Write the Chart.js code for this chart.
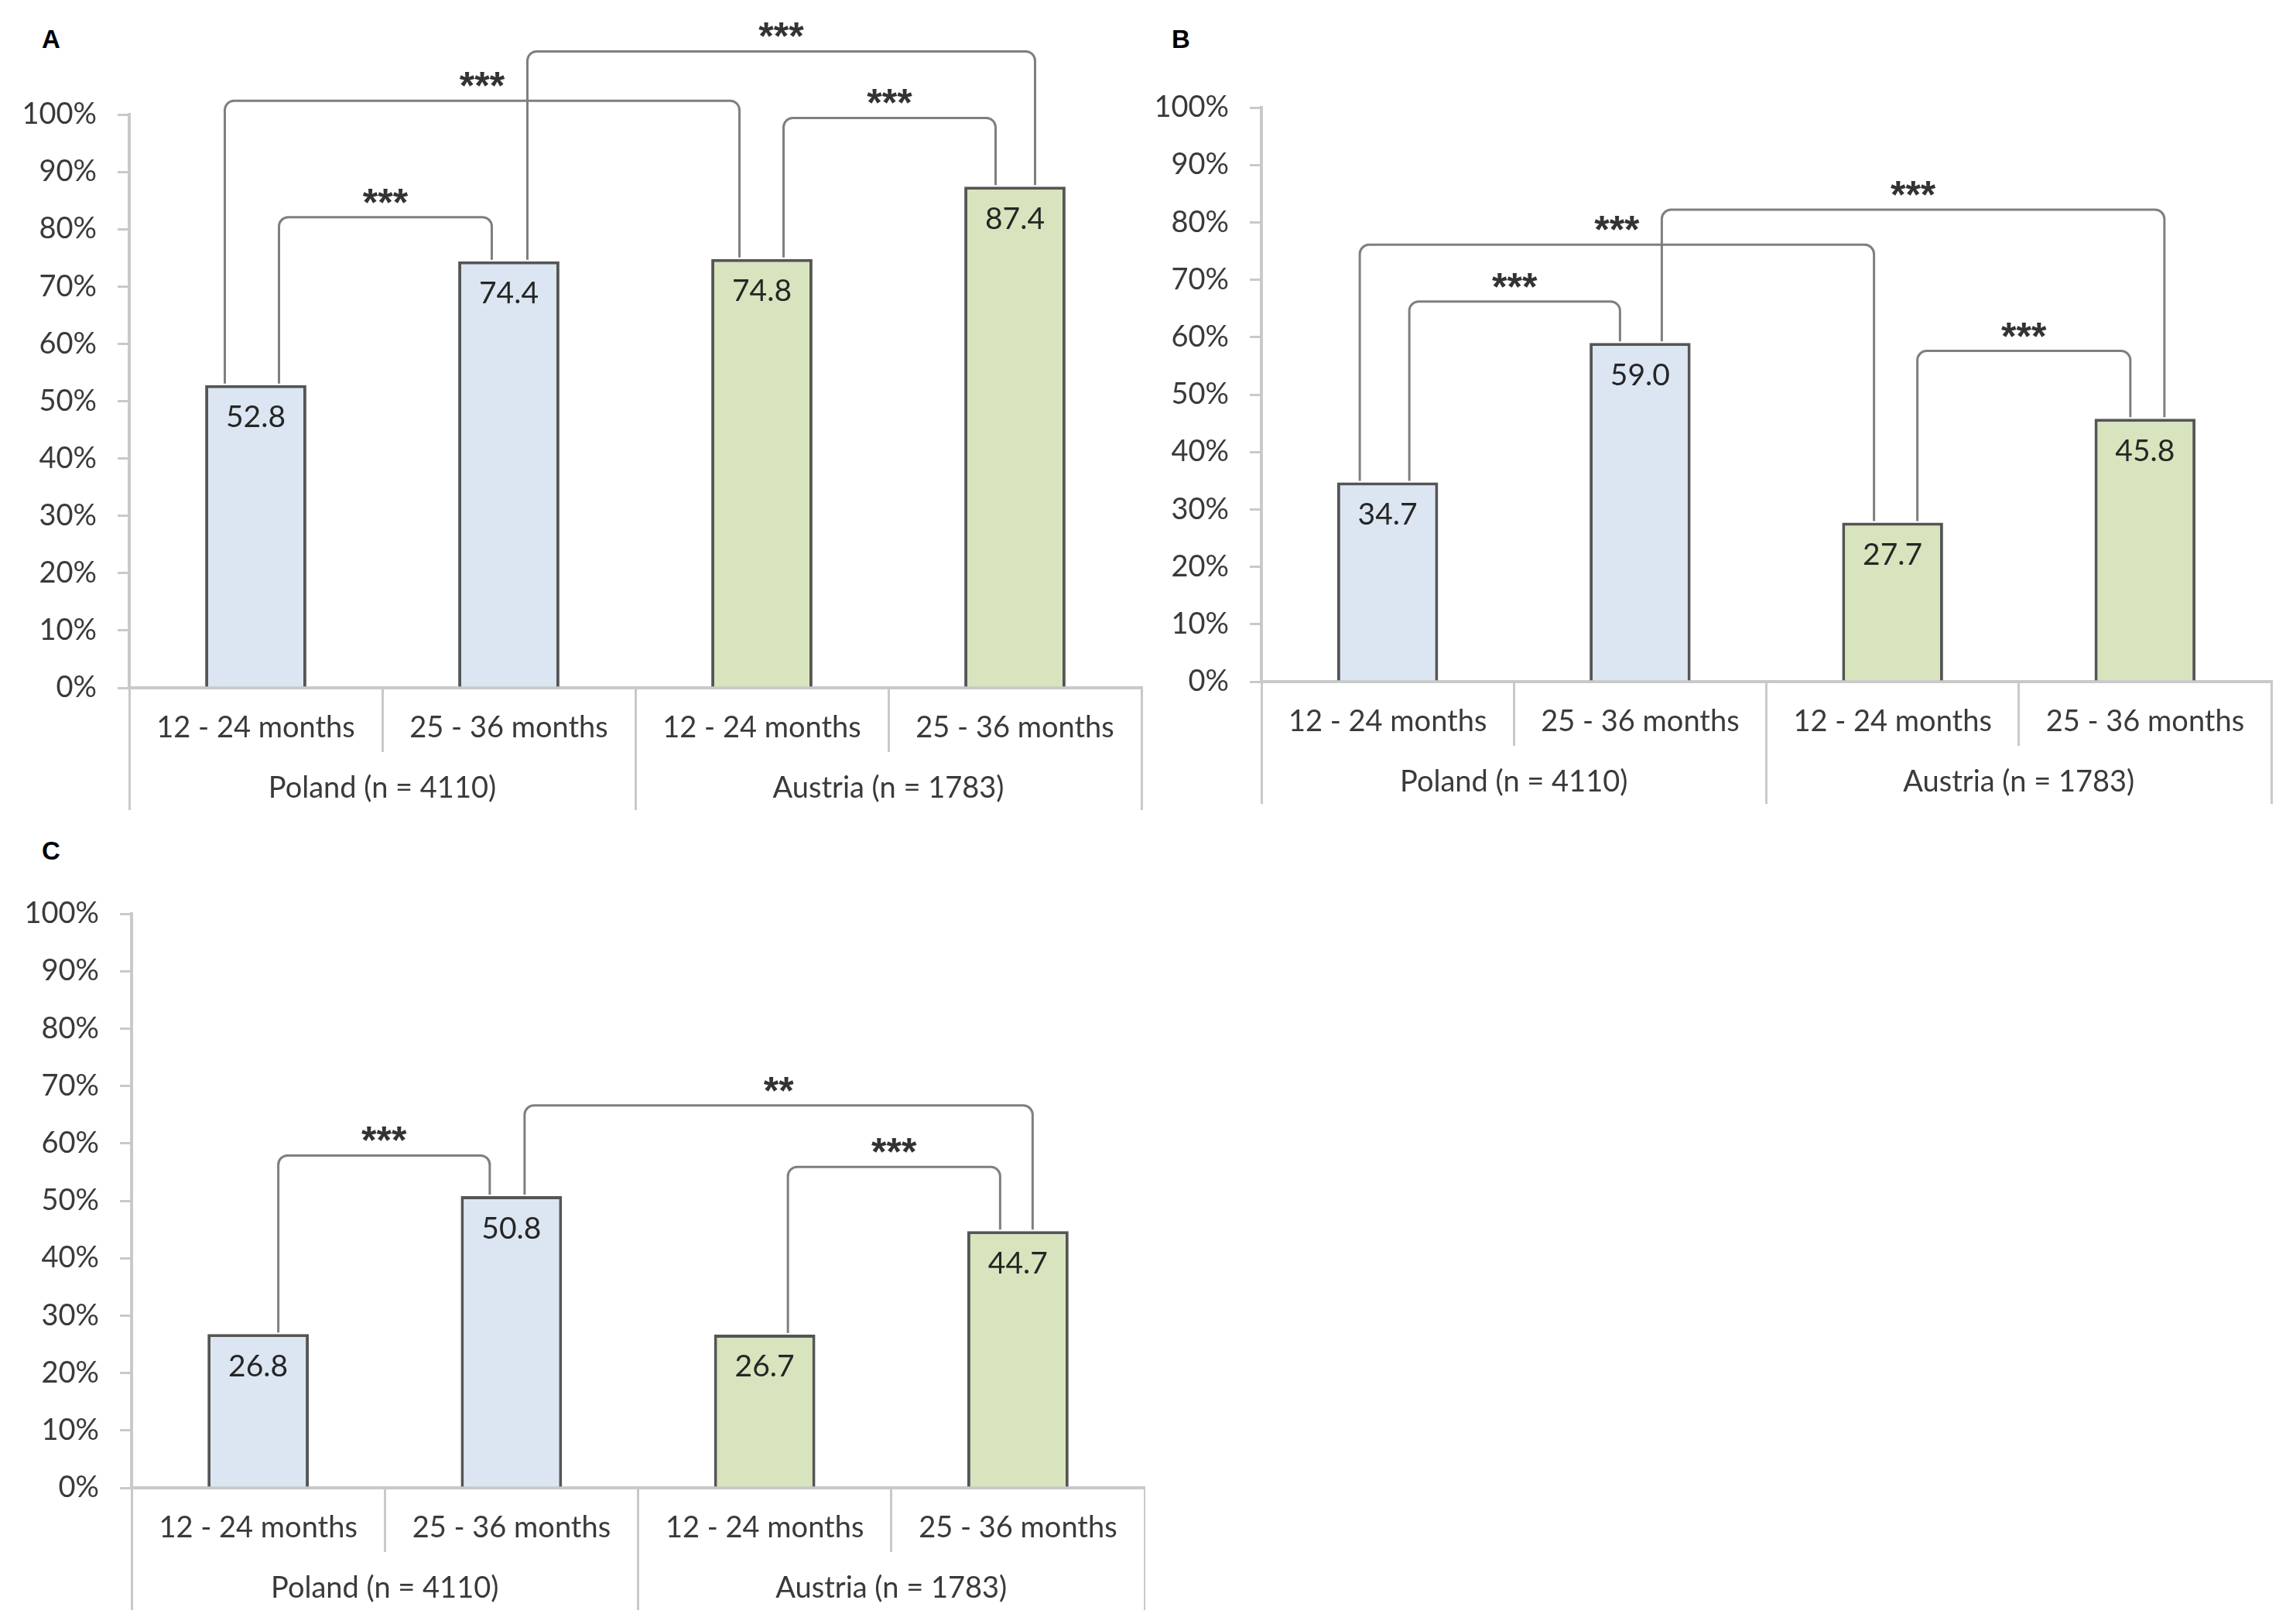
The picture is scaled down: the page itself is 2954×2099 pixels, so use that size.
<!DOCTYPE html>
<html>
<head>
<meta charset="utf-8">
<script src="https://cdn.jsdelivr.net/npm/chart.js@4.4.0/dist/chart.umd.min.js"></script>
<style>
  body { margin: 0; background: #fff; width: 2954px; height: 2099px; position: relative; overflow: hidden; }
  canvas { position: absolute; }
  .tag { position: absolute; font: bold 33px "Liberation Sans", Arial, sans-serif; color: #000; transform: translate(-50%, -50%); }
</style>
</head>
<body>
<div class="tag" style="left:66px;top:51px">A</div>
<div class="tag" style="left:1526px;top:51px">B</div>
<div class="tag" style="left:66px;top:1100px">C</div>
<canvas id="chartA" width="1480" height="1075" style="left:0;top:0;width:1480px;height:1075px"></canvas>
<canvas id="chartB" width="1474" height="1075" style="left:1480px;top:0;width:1474px;height:1075px"></canvas>
<canvas id="chartC" width="1480" height="1024" style="left:0;top:1075px;width:1480px;height:1024px"></canvas>
<script>
// categories
const ages = ['12 - 24 months', '25 - 36 months', '12 - 24 months', '25 - 36 months'];
const countries = ['Poland (n = 4110)', 'Austria (n = 1783)'];
const yTicks = [0, 10, 20, 30, 40, 50, 60, 70, 80, 90, 100];

// percentages per panel
const valuesA = [52.8, 74.4, 74.8, 87.4];
const valuesB = [34.7, 59.0, 27.7, 45.8];
const valuesC = [26.8, 50.8, 26.7, 44.7];

// significance brackets: [from bar, to bar, height in %]
const pairsA = [[0, 1, 82.1], [0, 2, 102.4], [2, 3, 99.4], [1, 3, 111.0]];
const pairsB = [[0, 1, 66.2], [0, 2, 76.1], [1, 3, 82.2], [2, 3, 57.6]];
const pairsC = [[0, 1, 57.9], [1, 3, 66.6], [2, 3, 55.9]];
const sigA = ['***', '***', '***', '***'];
const sigB = ['***', '***', '***', '***'];
const sigC = ['***', '**', '***'];

// where each leg sits relative to the bar centre (px)
const legsA = [[30, -22], [-40, -29], [28, -25], [24, 26]];
const legsB = [[28, -26], [-36, -24], [28, 25], [32, -19]];
const legsC = [[26, -28], [17, 19], [30, -23]];

const blue = '#dce6f2';
const green = '#d7e4bd';
const edge = '#555555';
const axisGrey = '#c9c9c9';
const textCol = '#3a3a3a';

Chart.defaults.font.family = 'Lato, "Liberation Sans", sans-serif';
Chart.defaults.color = textCol;

const annotate = {
  id: 'annotate',
  afterDatasetsDraw(chart, args, opts) {
    const ctx = chart.ctx;
    const xs = chart.scales.x, ys = chart.scales.y;
    const vals = chart.data.datasets[0].data;
    ctx.save();
    ctx.fillStyle = '#262626';
    ctx.font = '39px Lato, "Liberation Sans", sans-serif';
    ctx.textAlign = 'center';
    ctx.textBaseline = 'middle';
    vals.forEach((v, i) => {
      ctx.fillText(v.toFixed(1), xs.getPixelForValue(i), ys.getPixelForValue(v) + 42);
    });

    ctx.strokeStyle = '#7f7f7f';
    ctx.lineWidth = 3;
    ctx.textBaseline = 'alphabetic';
    ctx.fillStyle = '#333333';
    ctx.font = 'bold 50px "Liberation Sans", sans-serif';
    opts.pairs.forEach((p, k) => {
      const x1 = xs.getPixelForValue(p[0]) + opts.legs[k][0];
      const x2 = xs.getPixelForValue(p[1]) + opts.legs[k][1];
      const yt = ys.getPixelForValue(p[2]);
      const y1 = ys.getPixelForValue(vals[p[0]]) - 2;
      const y2 = ys.getPixelForValue(vals[p[1]]) - 2;
      ctx.beginPath();
      ctx.moveTo(x1, y1);
      ctx.arcTo(x1, yt, x2, yt, 12);
      ctx.arcTo(x2, yt, x2, y2, 12);
      ctx.lineTo(x2, y2);
      ctx.stroke();
      ctx.fillText(opts.sig[k], (x1 + x2) / 2, yt - 2);
    });
    ctx.restore();
  }
};

function makeChart(id, values, pairs, sig, legs, area) {
  const cv = document.getElementById(id);
  const W = cv.width, H = cv.height;
  new Chart(cv, {
    type: 'bar',
    data: {
      labels: ages,
      datasets: [{
        data: values,
        backgroundColor: [blue, blue, green, green],
        borderColor: edge,
        borderWidth: 4,
        barPercentage: 0.4,
        categoryPercentage: 1.0
      }]
    },
    options: {
      responsive: false,
      animation: false,
      devicePixelRatio: 1,
      layout: { padding: { left: 0, top: area.top, right: W - area.right, bottom: H - area.bottom - 158 } },
      plugins: {
        legend: { display: false },
        tooltip: { enabled: false },
        annotate: { pairs: pairs, sig: sig, legs: legs }
      },
      scales: {
        y: {
          min: 0, max: 100,
          afterBuildTicks: s => { s.ticks = yTicks.map(v => ({ value: v })); },
          afterFit: s => { s.width = area.left; s.paddingTop = 0; s.paddingBottom = 0; },
          ticks: { callback: v => v + '%', padding: 27, font: { size: 38 }, color: textCol },
          grid: { drawOnChartArea: false, tickLength: 15, color: axisGrey, lineWidth: 3 },
          border: { color: axisGrey, width: 4 }
        },
        x: {
          weight: 0,
          offset: true,
          afterFit: s => { s.height = 76; s.paddingLeft = 0; s.paddingRight = 0; },
          ticks: { padding: -54, font: { size: 38 }, color: textCol, maxRotation: 0 },
          grid: { offset: true, drawOnChartArea: false, tickLength: 83, color: axisGrey, lineWidth: 3 },
          border: { color: axisGrey, width: 4 }
        },
        x2: {
          type: 'category',
          position: 'bottom',
          weight: 1,
          labels: countries,
          offset: true,
          afterFit: s => { s.height = 82; s.paddingLeft = 0; s.paddingRight = 0; },
          ticks: { padding: -51, font: { size: 38 }, color: textCol, maxRotation: 0 },
          grid: { offset: true, drawOnChartArea: false, tickLength: 82, color: axisGrey, lineWidth: 3 },
          border: { display: false }
        }
      }
    },
    plugins: [annotate]
  });
}

makeChart('chartA', valuesA, pairsA, sigA, legsA, { left: 167, top: 148, right: 1475, bottom: 889 });
makeChart('chartB', valuesB, pairsB, sigB, legsB, { left: 150, top: 139, right: 1455, bottom: 881 });
makeChart('chartC', valuesC, pairsC, sigC, legsC, { left: 170, top: 106, right: 1479, bottom: 848 });
</script>
</body>
</html>
